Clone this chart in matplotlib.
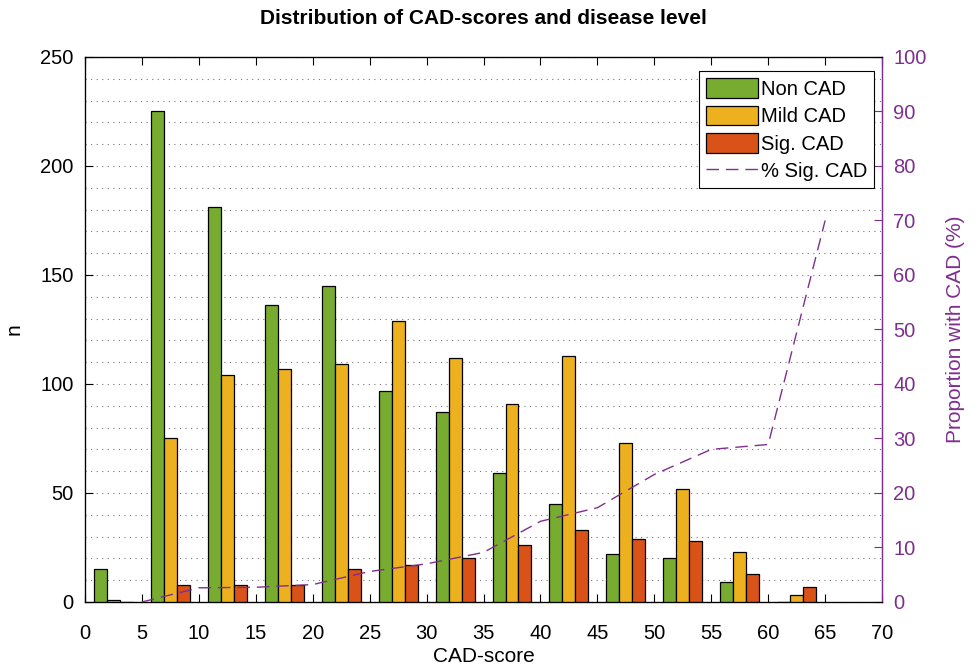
import numpy as np
import matplotlib
matplotlib.use("Agg")
import matplotlib.pyplot as plt
from matplotlib.ticker import MultipleLocator

plt.rcParams['font.family'] = ['Liberation Sans', 'DejaVu Sans']

# bin centres of CAD-score (bins of width 5)
bin_centres = [2.5, 7.5, 12.5, 17.5, 22.5, 27.5, 32.5, 37.5, 42.5, 47.5, 52.5, 57.5, 62.5]
non_cad = [15, 225, 181, 136, 145, 97, 87, 59, 45, 22, 20, 9, 0]
mild_cad = [1, 75, 104, 107, 109, 129, 112, 91, 113, 73, 52, 23, 3]
sig_cad = [0, 8, 8, 8, 15, 17, 20, 26, 33, 29, 28, 13, 7]

# % sig. CAD, plotted at the upper edge of each bin
pct_x = [5, 10, 15, 20, 25, 30, 35, 40, 45, 50, 55, 60, 65]
pct_sig = [0.0, 2.6, 2.7, 3.2, 5.6, 7.0, 9.1, 14.8, 17.3, 23.4, 28.0, 28.9, 70.0]

green = '#77AC30'
yellow = '#EDB120'
orange = '#D95319'
purple = '#7E2F8E'

fig = plt.figure(figsize=(9.79, 6.70), dpi=100)
ax = fig.add_axes([0.0868, 0.1015, 0.8142, 0.8135])

w = 1.14
x = np.array(bin_centres)
b1 = ax.bar(x - w, non_cad, w, color=green, edgecolor='black', linewidth=0.9, label='Non CAD', zorder=3)
b2 = ax.bar(x, mild_cad, w, color=yellow, edgecolor='black', linewidth=0.9, label='Mild CAD', zorder=3)
b3 = ax.bar(x + w, sig_cad, w, color=orange, edgecolor='black', linewidth=0.9, label='Sig. CAD', zorder=3)

ax.set_xlim(0, 70)
ax.set_ylim(0, 250)
ax.xaxis.set_major_locator(MultipleLocator(5))
ax.yaxis.set_major_locator(MultipleLocator(50))
ax.yaxis.set_minor_locator(MultipleLocator(10))
ax.tick_params(axis='both', which='major', direction='in', labelsize=14.5, length=6, top=True)
ax.tick_params(axis='x', pad=16)
ax.tick_params(axis='y', pad=8)
ax.tick_params(axis='y', which='minor', length=0)
ax.yaxis.grid(True, which='both', linestyle=(0, (1, 4)), color='#777777', linewidth=0.8)
ax.set_axisbelow(True)
ax.set_xlabel('CAD-score', fontsize=15, labelpad=3)
ax.set_ylabel('n', fontsize=15, labelpad=12)
ax.set_title('Distribution of CAD-scores and disease level', fontsize=15, fontweight='bold', pad=24)
for s in ax.spines.values():
    s.set_linewidth(0.9)

ax2 = ax.twinx()
ln, = ax2.plot(pct_x, pct_sig, color=purple, linestyle=(0, (9, 5)), linewidth=1.0, label='% Sig. CAD', zorder=4)
ax2.set_ylim(0, 100)
ax2.yaxis.set_major_locator(MultipleLocator(10))
ax2.tick_params(axis='y', direction='in', colors=purple, labelsize=14.5, length=6, pad=8)
ax2.spines['right'].set_color(purple)
ax2.set_ylabel('Proportion with CAD (%)', color=purple, fontsize=15, labelpad=14)

leg = ax2.legend([b1, b2, b3, ln], ['Non CAD', 'Mild CAD', 'Sig. CAD', '% Sig. CAD'],
                 loc='upper right', bbox_to_anchor=(0.998, 0.985), fontsize=14.5,
                 fancybox=False, edgecolor='black', framealpha=1,
                 handlelength=2.6, handleheight=1.1, borderpad=0.35, labelspacing=0.35,
                 handletextpad=0.15, borderaxespad=0.3)
leg.get_frame().set_linewidth(0.8)

fig.savefig('out.png', dpi=100)
